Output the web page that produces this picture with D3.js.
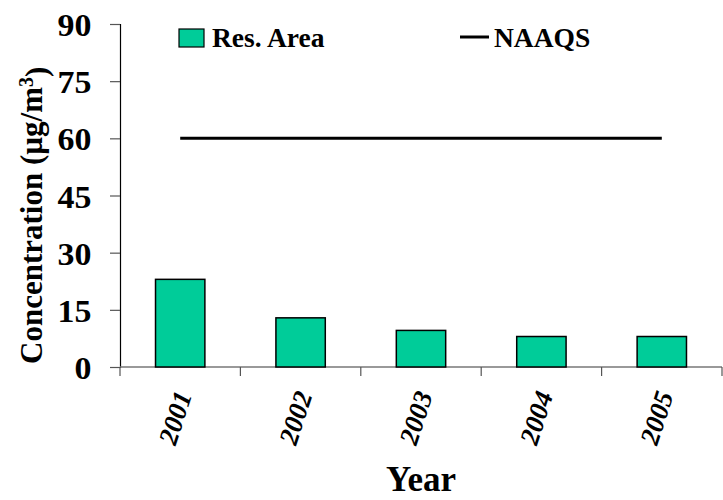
<!DOCTYPE html>
<html>
<head>
<meta charset="utf-8">
<script src="https://cdn.jsdelivr.net/npm/d3@7"></script>
<style>
  body { margin: 0; background: #fff; }
  svg { display: block; }
  text { font-family: "Liberation Serif", "Times New Roman", serif; font-weight: bold; fill: #000; }
</style>
</head>
<body>
<svg id="chart" width="723" height="500"></svg>
<script>
const years = ["2001", "2002", "2003", "2004", "2005"];
const resArea = [23.0, 12.9, 9.6, 8.0, 8.0];
const naaqs = [60, 60, 60, 60, 60];
const yTicks = [0, 15, 30, 45, 60, 75, 90];
const seriesNames = ["Res. Area", "NAAQS"];

const svg = d3.select("#chart");
const mLeft = 120, mRight = 722, mTop = 24, mBottom = 367;

const y = d3.scaleLinear().domain([0, 90]).range([mBottom, mTop]);
const xCat = d3.scaleBand().domain(years).range([mLeft, mRight]).padding(0);
const xBar = d3.scaleBand().domain(years).range([mLeft, mRight]).paddingInner(0.59).paddingOuter(0.295);

// Y axis
const yAxis = svg.append("g").attr("transform", `translate(${mLeft},0)`)
  .call(d3.axisLeft(y).tickValues(yTicks).tickSize(10).tickSizeOuter(10).tickPadding(17).tickFormat(d3.format("d")));
yAxis.attr("font-family", null);
yAxis.select(".domain").attr("stroke", "#000").attr("stroke-width", 1.2);
yAxis.selectAll(".tick line").attr("stroke", "#555").attr("stroke-width", 1.2);
yAxis.selectAll(".tick text").style("font-size", "32px").attr("dy", "0.36em")
  .attr("transform", "scale(1.06,1)");

// X axis line + ticks at category boundaries
const xg = svg.append("g");
xg.append("line").attr("x1", mLeft).attr("x2", mRight).attr("y1", y(0)).attr("y2", y(0))
  .attr("stroke", "#777").attr("stroke-width", 1.5);
const bounds = years.map(d => xCat(d)).concat([xCat(years[years.length - 1]) + xCat.bandwidth()]);
xg.selectAll("line.tk").data(bounds).join("line").attr("class", "tk")
  .attr("x1", d => d).attr("x2", d => d).attr("y1", y(0)).attr("y2", y(0) + 9)
  .attr("stroke", "#555").attr("stroke-width", 1.2);

// Bars
svg.append("g").selectAll("rect").data(years).join("rect")
  .attr("x", d => xBar(d))
  .attr("width", xBar.bandwidth())
  .attr("y", (d, i) => y(resArea[i]))
  .attr("height", (d, i) => y(0) - y(resArea[i]))
  .attr("fill", "#00CC99").attr("stroke", "#000").attr("stroke-width", 1.5);

// NAAQS line
const line = d3.line().x((d, i) => xCat(years[i]) + xCat.bandwidth() / 2).y(d => y(d));
svg.append("path").datum(naaqs).attr("d", line).attr("fill", "none")
  .attr("stroke", "#000").attr("stroke-width", 3);

// X tick labels
svg.append("g").selectAll("text").data(years).join("text")
  .attr("transform", d => `translate(${xCat(d) + xCat.bandwidth() / 2 + 3},392) rotate(-72)`)
  .attr("text-anchor", "end").attr("dy", "0.35em")
  .style("font-size", "27px").style("font-style", "italic")
  .text(d => d);

// Axis titles
svg.append("text").attr("x", (mLeft + mRight) / 2).attr("y", 491).attr("text-anchor", "middle")
  .style("font-size", "35px").text("Year");

const yt = svg.append("text").attr("transform", "translate(42,364) rotate(-90)")
  .attr("text-anchor", "start").style("font-size", "31px");
yt.append("tspan").text("Concentration (µg/m");
yt.append("tspan").attr("dy", "-0.45em").style("font-size", "20px").text("3");
yt.append("tspan").attr("dy", "0.45em").text(")");

// Legend
const lg = svg.append("g");
lg.append("rect").attr("x", 179).attr("y", 29).attr("width", 25).attr("height", 18)
  .attr("fill", "#00CC99").attr("stroke", "#000").attr("stroke-width", 1.2);
lg.append("text").attr("x", 212).attr("y", 47).style("font-size", "27.5px").text(seriesNames[0]);
lg.append("line").attr("x1", 460).attr("x2", 489).attr("y1", 37).attr("y2", 37)
  .attr("stroke", "#000").attr("stroke-width", 3);
lg.append("text").attr("x", 494).attr("y", 47).style("font-size", "27.5px").text(seriesNames[1]);
</script>
</body>
</html>
